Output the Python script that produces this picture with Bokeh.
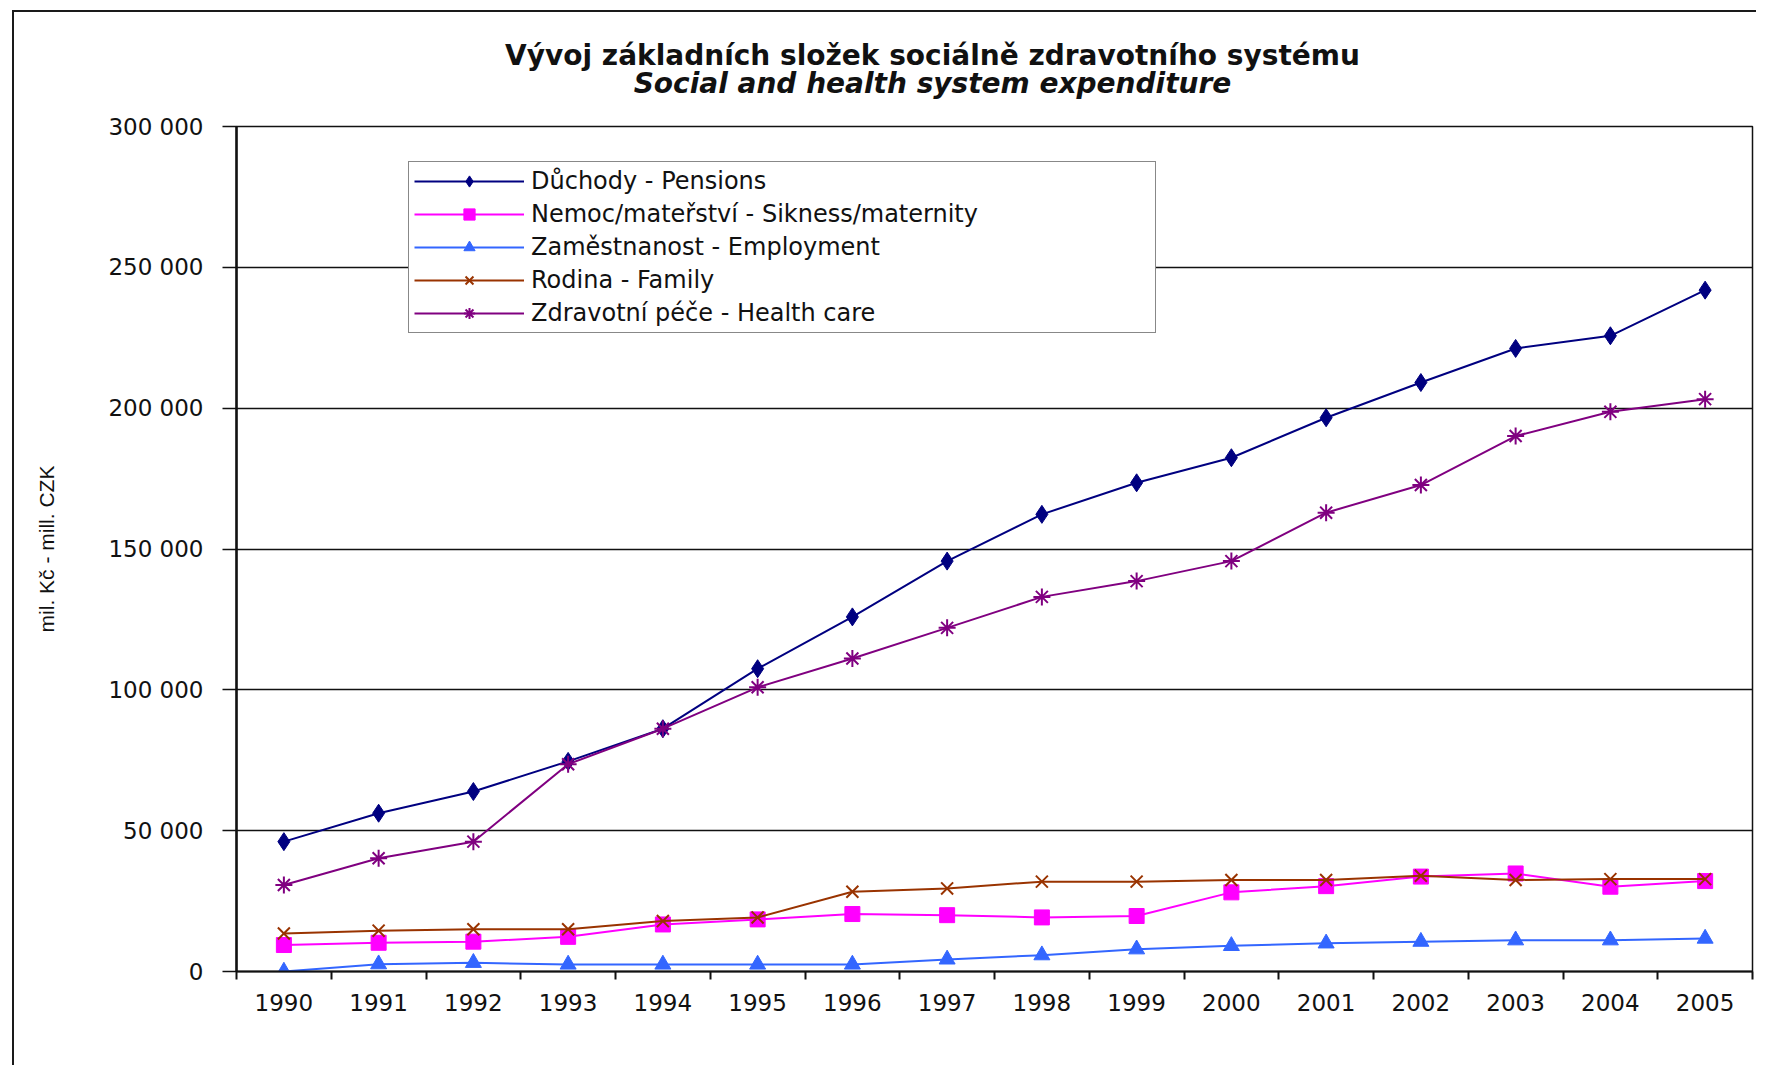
from bokeh.plotting import figure
from bokeh.layouts import column
from bokeh.models import Range1d, FixedTicker, Label, Legend, LegendItem
from bokeh.embed import file_html
from bokeh.resources import INLINE

years = [1990, 1991, 1992, 1993, 1994, 1995, 1996, 1997, 1998, 1999, 2000, 2001, 2002, 2003, 2004, 2005]
pensions = [46100, 56200, 63900, 74600, 86200, 107500, 125900, 145700, 162300, 173500, 182400, 196600, 209100, 221200, 225700, 241900]
sickness = [9400, 10200, 10600, 12300, 16700, 18500, 20400, 20000, 19200, 19700, 28100, 30300, 33700, 34800, 30100, 32100]
employment = [0, 2600, 3100, 2500, 2500, 2500, 2500, 4300, 5800, 7900, 9100, 10000, 10600, 11100, 11100, 11700]
family = [13500, 14500, 15000, 15000, 17900, 19200, 28300, 29500, 31900, 31900, 32500, 32500, 34000, 32500, 32800, 32800]
health = [30700, 40200, 46100, 73600, 86200, 100900, 111100, 122000, 133000, 138600, 145700, 162900, 172700, 190100, 198700, 203200]

y_ticks = [0, 50000, 100000, 150000, 200000, 250000, 300000]
y_tick_labels = ["0", "50 000", "100 000", "150 000", "200 000", "250 000", "300 000"]

series_names = [
    "Důchody - Pensions",
    "Nemoc/mateřství - Sikness/maternity",
    "Zaměstnanost - Employment",
    "Rodina - Family",
    "Zdravotní péče - Health care",
]
title_cz = "Vývoj základních složek sociálně zdravotního systému"
title_en = "Social and health system expenditure"
y_label = "mil. Kč - mill. CZK"

TICK_FONT = "DejaVu Sans"
FRAME = "2px solid #1a1a1a"
W = 1744
BL, BR = 222, 6
FRAME_W = W - BL - BR

# ---- title strip (pixel-scaled ranges, frame aligned with the chart frame) ----
TH = 100
tfig = figure(width=W, height=TH, output_backend="svg", toolbar_location=None,
              x_range=Range1d(0, FRAME_W), y_range=Range1d(0, TH),
              x_axis_location=None, y_axis_location=None,
              min_border_left=BL, min_border_right=BR, min_border_top=0, min_border_bottom=0)
tfig.margin = (10, 0, 0, 12)
tfig.styles = {"border-left": FRAME, "border-top": FRAME}
tfig.grid.visible = False
tfig.outline_line_color = None
tfig.background_fill_color = "white"
tfig.border_fill_color = "white"
title_x = 932 - 236
tfig.add_layout(Label(x=title_x, y=TH - 42.5, text=title_cz,
                      text_font="DejaVu Sans", text_font_size="28px", text_font_style="bold",
                      text_align="center", text_baseline="middle", text_color="#111111"))
tfig.add_layout(Label(x=title_x, y=TH - 71, text=title_en,
                      text_font="DejaVu Sans", text_font_size="28px", text_font_style="bold italic",
                      text_align="center", text_baseline="middle", text_color="#111111"))

# ---- chart ----
p = figure(
    width=W, height=955,
    output_backend="svg", toolbar_location=None,
    x_range=Range1d(years[0] - 0.5, years[-1] + 0.5),
    y_range=Range1d(0, 300000),
    min_border_left=BL, min_border_right=BR, min_border_top=16, min_border_bottom=94,
)
p.margin = (0, 0, 0, 12)
p.styles = {"border-left": FRAME}
p.background_fill_color = "white"
p.border_fill_color = "white"
p.outline_line_color = "#111111"
p.outline_line_width = 1.5

p.xgrid.visible = False
p.ygrid.ticker = FixedTicker(ticks=y_ticks)
p.ygrid.grid_line_color = "#111111"
p.ygrid.grid_line_width = 1.3

xa = p.xaxis[0]
xa.ticker = FixedTicker(ticks=years, minor_ticks=[y - 0.5 for y in years] + [years[-1] + 0.5])
xa.major_label_overrides = {y: str(y) for y in years}
xa.major_tick_out = 0
xa.major_tick_in = 0
xa.minor_tick_out = 8
xa.minor_tick_in = 0
xa.minor_tick_line_color = "#111111"
xa.minor_tick_line_width = 2
xa.axis_line_width = 2
xa.axis_line_color = "#111111"
xa.major_label_text_font = TICK_FONT
xa.major_label_text_font_size = "23px"
xa.major_label_text_color = "#111111"
xa.major_label_standoff = 14

ya = p.yaxis[0]
ya.ticker = FixedTicker(ticks=y_ticks)
ya.major_label_overrides = dict(zip(y_ticks, y_tick_labels))
ya.major_tick_out = 14
ya.major_tick_in = 0
ya.minor_tick_out = 0
ya.minor_tick_in = 0
ya.major_tick_line_color = "#111111"
ya.major_tick_line_width = 1.5
ya.axis_line_width = 2.5
ya.axis_line_color = "#111111"
ya.major_label_text_font = TICK_FONT
ya.major_label_text_font_size = "23px"
ya.major_label_text_color = "#111111"
ya.major_label_standoff = 19
ya.axis_label = y_label
ya.axis_label_text_font = "Liberation Sans"
ya.axis_label_text_font_size = "21px"
ya.axis_label_text_font_style = "normal"
ya.axis_label_text_color = "#111111"
ya.axis_label_standoff = 47

styles = [
    (pensions, "#000080", "diamond", 18),
    (sickness, "#FF00FF", "square", 15),
    (employment, "#3366FF", "triangle", 16),
    (family, "#993300", "x", 17),
    (health, "#800080", "asterisk", 17),
]

items = []
for (vals, col, mk, sz), name in zip(styles, series_names):
    r1 = p.line(years, vals, line_color=col, line_width=2)
    if mk in ("x", "asterisk"):
        r2 = p.scatter(years, vals, marker=mk, size=sz, line_color=col, line_width=2)
    else:
        r2 = p.scatter(years, vals, marker=mk, size=sz, fill_color=col, line_color=col)
    items.append(LegendItem(label=name, renderers=[r1, r2]))

legend = Legend(
    items=items,
    location=(172, 638),
    orientation="vertical",
    border_line_color="#111111",
    border_line_width=1.5,
    background_fill_color="white",
    background_fill_alpha=1.0,
    padding=5,
    margin=0,
    spacing=5,
    glyph_width=110,
    glyph_height=28,
    label_height=28,
    label_width=619,
    label_standoff=7,
    label_text_font=TICK_FONT,
    label_text_font_size="24px",
    label_text_color="#111111",
)
p.add_layout(legend, "center")

layout = column(tfig, p, spacing=0)
open("out.html", "w").write(file_html(layout, INLINE))
